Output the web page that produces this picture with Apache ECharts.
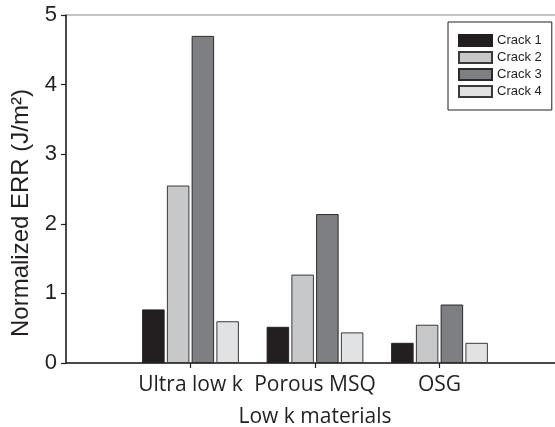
<!DOCTYPE html>
<html>
<head>
<meta charset="utf-8">
<script src="https://cdn.jsdelivr.net/npm/echarts@6/dist/echarts.min.js"></script>
<style>
html,body{margin:0;padding:0;background:#fff;}
#chart{width:555px;height:427px;}
</style>
</head>
<body>
<div id="chart"></div>
<script>
const categories = ['Ultra low k', 'Porous MSQ', 'OSG'];
const seriesNames = ['Crack 1', 'Crack 2', 'Crack 3', 'Crack 4'];
const crack1 = [0.77, 0.52, 0.29];
const crack2 = [2.55, 1.27, 0.55];
const crack3 = [4.70, 2.14, 0.84];
const crack4 = [0.60, 0.44, 0.29];
const yTicks = [0, 1, 2, 3, 4, 5];

const fills = ['#231f20', '#c7c8ca', '#7e7f83', '#e1e2e3'];
const borders = ['#231f20', '#3a3a3a', '#2a2a2a', '#3a3a3a'];
const values = [crack1, crack2, crack3, crack4];

const xData = [''].concat(categories).concat(['']);
const pad = arr => [null].concat(arr).concat([null]);

const chart = echarts.init(document.getElementById('chart'), null, {renderer: 'canvas'});
chart.setOption({
  animation: false,
  backgroundColor: '#fff',
  grid: {
    left: 66, top: 15, bottom: 64, width: 498,
    outerBoundsMode: 'none',
    containLabel: false,
    show: true, borderColor: '#8a8a8a', borderWidth: 1, backgroundColor: 'transparent'
  },
  legend: {
    orient: 'vertical',
    left: 448, top: 22,
    backgroundColor: '#fff',
    borderColor: '#231f20', borderWidth: 1,
    padding: [12, 10, 12, 10],
    icon: 'rect',
    itemWidth: 33, itemHeight: 11, itemGap: 4,
    selectedMode: false,
    textStyle: {fontFamily: 'Liberation Sans', fontSize: 13, color: '#231f20'},
    data: seriesNames
  },
  xAxis: {
    type: 'category',
    data: xData,
    boundaryGap: false,
    name: 'Low k materials',
    nameLocation: 'middle',
    nameGap: 44,
    nameTextStyle: {fontFamily: 'Open Sans', fontSize: 21, color: '#231f20'},
    axisLine: {lineStyle: {color: '#231f20', width: 1.5}},
    axisTick: {show: true, length: 5, lineStyle: {color: '#231f20', width: 1.2},
      interval: function (i) { return i >= 1 && i <= categories.length; }},
    axisLabel: {interval: 0, margin: 12, fontFamily: 'Open Sans', fontSize: 21, color: '#231f20'},
    splitLine: {show: false}
  },
  yAxis: {
    type: 'value',
    min: yTicks[0], max: yTicks[yTicks.length - 1], interval: 1,
    name: 'Normalized ERR (J/m²)',
    nameLocation: 'middle',
    nameGap: 31,
    nameTextStyle: {fontFamily: 'Liberation Sans', fontSize: 24, color: '#231f20', padding: [0, 48, 0, 0]},
    axisLine: {show: true, lineStyle: {color: '#231f20', width: 1.5}},
    axisTick: {show: true, length: 5, lineStyle: {color: '#231f20', width: 1.2}},
    axisLabel: {margin: 9, fontFamily: 'Liberation Sans', fontSize: 22, color: '#231f20'},
    splitLine: {show: false}
  },
  series: seriesNames.map((name, k) => ({
    name: name,
    type: 'bar',
    barWidth: 22.5,
    barGap: '10%',
    data: pad(values[k]),
    itemStyle: {color: fills[k], borderColor: borders[k], borderWidth: 1}
  }))
});
</script>
</body>
</html>
